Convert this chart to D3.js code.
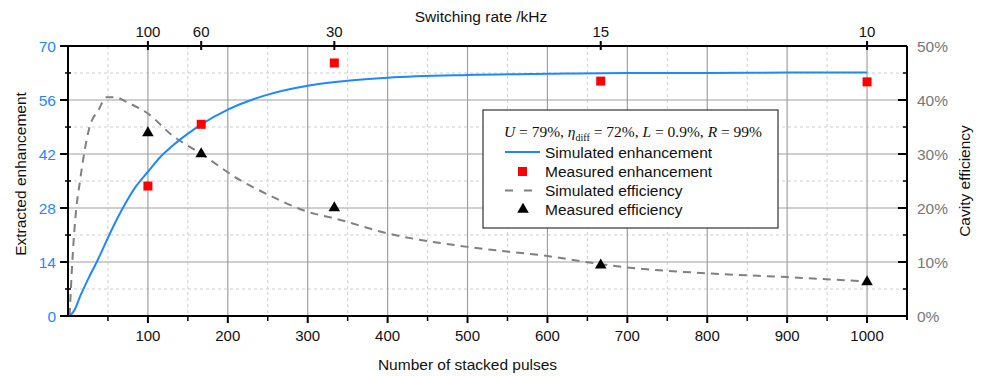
<!DOCTYPE html>
<html>
<head>
<meta charset="utf-8">
<script src="https://cdn.jsdelivr.net/npm/d3@7"></script>
<style>
  body { margin: 0; background: #fff; }
  svg text { font-family: "Liberation Sans", Arial, sans-serif; }
</style>
</head>
<body>
<svg id="chart" width="983" height="376"></svg>
<script>
// measured points (pulse count, switching rate)
var pulses = [100, 166.7, 333.3, 666.7, 1000];
var switchKHz = [100, 60, 30, 15, 10];
var measEnh = [33.7, 49.7, 65.6, 60.9, 60.7];
var measEff = [33.9, 30.0, 20.0, 9.4, 6.3];

// simulated curves
var simEnhX = [2, 8, 15, 25, 36, 55, 70, 85, 100, 115, 130, 145, 167, 200, 250, 300, 350, 400, 500, 600, 700, 800, 900, 1000];
var simEnhY = [0, 1.5, 5, 9.5, 14, 22.5, 28.5, 33.6, 37.4, 41.1, 44, 46.5, 49.7, 53.5, 57.4, 59.7, 61, 61.8, 62.5, 62.8, 63, 63, 63.1, 63.1];
var simEffX = [2, 5, 9, 15, 19, 27, 38, 48, 59, 75, 100, 130, 167, 215, 250, 300, 333, 400, 500, 600, 667, 700, 800, 900, 1000];
var simEffY = [0, 9, 17.8, 25, 29, 35, 38.1, 40.5, 40.5, 39.5, 37.5, 33.5, 30, 25.2, 22.5, 19.3, 18.1, 15.3, 12.8, 11.1, 9.6, 9, 7.9, 7.2, 6.4];

var xMajor = [100, 200, 300, 400, 500, 600, 700, 800, 900, 1000];
var xMinor = [50, 150, 250, 350, 450, 550, 650, 750, 850, 950];
var yMajor = [0, 14, 28, 42, 56, 70];
var yMinor = [7, 21, 35, 49, 63];
var effTicks = [0, 10, 20, 30, 40, 50];
var effMinor = [5, 15, 25, 35, 45];

var L = 68, R = 907, T = 46, B = 316;
var blue = "#1e88ff";

var svg = d3.select("#chart");
var x = d3.scaleLinear().domain([0, 1050]).range([L, R]);
var y = d3.scaleLinear().domain([0, 70]).range([B, T]);
var yEff = d3.scaleLinear().domain([0, 50]).range([B, T]);

// grid
var grid = svg.append("g");
grid.selectAll("line.xmin").data(xMinor).enter().append("line")
  .attr("x1", x).attr("x2", x).attr("y1", T).attr("y2", B)
  .attr("stroke", "#cfcfcf").attr("stroke-dasharray", "3,3");
grid.selectAll("line.ymin").data(yMinor).enter().append("line")
  .attr("x1", L).attr("x2", R).attr("y1", y).attr("y2", y)
  .attr("stroke", "#cfcfcf").attr("stroke-dasharray", "3,3");
grid.selectAll("line.xmaj").data(xMajor).enter().append("line")
  .attr("x1", x).attr("x2", x).attr("y1", T).attr("y2", B)
  .attr("stroke", "#a0a0a0").attr("stroke-width", 1.2);
grid.selectAll("line.ymaj").data(yMajor.slice(1, 5)).enter().append("line")
  .attr("x1", L).attr("x2", R).attr("y1", y).attr("y2", y)
  .attr("stroke", "#a0a0a0").attr("stroke-width", 1.2);

// curves
var enhLine = d3.line().x(function(d) { return x(d[0]); }).y(function(d) { return y(d[1]); })
  .curve(d3.curveMonotoneX);
var effLine = d3.line().x(function(d) { return x(d[0]); }).y(function(d) { return yEff(d[1]); })
  .curve(d3.curveMonotoneX);

svg.append("path")
  .attr("d", effLine(d3.zip(simEffX, simEffY)))
  .attr("fill", "none").attr("stroke", "#808080").attr("stroke-width", 2)
  .attr("stroke-dasharray", "8,6");
svg.append("path")
  .attr("d", enhLine(d3.zip(simEnhX, simEnhY)))
  .attr("fill", "none").attr("stroke", blue).attr("stroke-width", 2);

// measured markers
svg.selectAll("rect.meas").data(d3.zip(pulses, measEnh)).enter().append("rect")
  .attr("x", function(d) { return x(d[0]) - 4.5; })
  .attr("y", function(d) { return y(d[1]) - 4.5; })
  .attr("width", 9).attr("height", 9).attr("fill", "#ff0000");
var tri = d3.symbol().type(d3.symbolTriangle).size(58);
svg.selectAll("path.tri").data(d3.zip(pulses, measEff)).enter().append("path")
  .attr("d", tri)
  .attr("transform", function(d) { return "translate(" + x(d[0]) + "," + yEff(d[1]) + ")"; })
  .attr("fill", "#000");

// axes frame
var ax = svg.append("g").attr("stroke", "#000");
ax.append("line").attr("x1", L).attr("x2", R).attr("y1", B).attr("y2", B).attr("stroke-width", 2);
ax.append("line").attr("x1", L).attr("x2", R).attr("y1", T).attr("y2", T).attr("stroke-width", 2);
ax.append("line").attr("x1", L).attr("x2", L).attr("y1", T).attr("y2", B).attr("stroke-width", 2);
ax.append("line").attr("x1", R).attr("x2", R).attr("y1", T).attr("y2", B + 4).attr("stroke-width", 2);

// bottom ticks
ax.selectAll("line.bt").data(xMajor).enter().append("line")
  .attr("x1", x).attr("x2", x).attr("y1", B).attr("y2", B + 7).attr("stroke-width", 2);
ax.selectAll("line.btm").data(xMinor).enter().append("line")
  .attr("x1", x).attr("x2", x).attr("y1", B).attr("y2", B + 5).attr("stroke-width", 1.5);
svg.selectAll("text.bt").data(xMajor).enter().append("text")
  .attr("x", x).attr("y", B + 25).attr("text-anchor", "middle")
  .attr("font-size", 15).attr("fill", "#111").text(function(d) { return d; });

// left ticks
ax.selectAll("line.lt").data(yMajor).enter().append("line")
  .attr("x1", L - 8).attr("x2", L).attr("y1", y).attr("y2", y).attr("stroke-width", 2);
ax.selectAll("line.ltm").data(yMinor).enter().append("line")
  .attr("x1", L - 3).attr("x2", L + 3).attr("y1", y).attr("y2", y).attr("stroke-width", 1.5);
svg.selectAll("text.lt").data(yMajor).enter().append("text")
  .attr("x", L - 12).attr("y", function(d) { return y(d) + 6; }).attr("text-anchor", "end")
  .attr("font-size", 15.5).attr("fill", blue).text(function(d) { return d; });

// right ticks
ax.selectAll("line.rt").data(effTicks).enter().append("line")
  .attr("x1", R - 9).attr("x2", R).attr("y1", yEff).attr("y2", yEff).attr("stroke-width", 2);
ax.selectAll("line.rtm").data(effMinor).enter().append("line")
  .attr("x1", R - 4).attr("x2", R).attr("y1", yEff).attr("y2", yEff).attr("stroke-width", 1.5);
svg.selectAll("text.rt").data(effTicks).enter().append("text")
  .attr("x", R + 10).attr("y", function(d) { return yEff(d) + 6; })
  .attr("font-size", 15.5).attr("fill", "#777").text(function(d) { return d + "%"; });

// top axis: switching rate
ax.selectAll("line.tt").data(pulses).enter().append("line")
  .attr("x1", x).attr("x2", x).attr("y1", T - 5).attr("y2", T + 4).attr("stroke-width", 2);
svg.selectAll("text.tt").data(d3.zip(pulses, switchKHz)).enter().append("text")
  .attr("x", function(d) { return x(d[0]); }).attr("y", T - 9).attr("text-anchor", "middle")
  .attr("font-size", 15).attr("fill", "#111").text(function(d) { return d[1]; });

// axis titles
svg.append("text").attr("x", 481).attr("y", 22).attr("text-anchor", "middle")
  .attr("font-size", 15.5).attr("fill", "#111").text("Switching rate /kHz");
svg.append("text").attr("x", x(500)).attr("y", 370).attr("text-anchor", "middle")
  .attr("font-size", 15.5).attr("fill", "#111").text("Number of stacked pulses");
svg.append("text").attr("transform", "translate(26,174) rotate(-90)").attr("text-anchor", "middle")
  .attr("font-size", 15.5).attr("fill", "#111").text("Extracted enhancement");
svg.append("text").attr("transform", "translate(970,181) rotate(-90)").attr("text-anchor", "middle")
  .attr("font-size", 15.5).attr("fill", "#111").text("Cavity efficiency");

// legend
var lg = svg.append("g").attr("transform", "translate(483,110)");
lg.append("rect").attr("width", 295).attr("height", 118)
  .attr("fill", "#fff").attr("stroke", "#333").attr("stroke-width", 1.2);
var title = lg.append("text").attr("x", 150).attr("y", 27).attr("text-anchor", "middle")
  .attr("font-size", 15.5).attr("fill", "#111")
  .style("font-family", "'Liberation Serif', 'DejaVu Serif', serif");
title.append("tspan").attr("font-style", "italic").text("U");
title.append("tspan").text(" = 79%, ");
title.append("tspan").attr("font-style", "italic").text("η");
title.append("tspan").attr("font-size", 10).attr("dy", 4).text("diff");
title.append("tspan").attr("dy", -4).text(" = 72%, ");
title.append("tspan").attr("font-style", "italic").text("L");
title.append("tspan").text(" = 0.9%, ");
title.append("tspan").attr("font-style", "italic").text("R");
title.append("tspan").text(" = 99%");

var rows = ["Simulated enhancement", "Measured enhancement", "Simulated efficiency", "Measured efficiency"];
var rowY = [42, 61.5, 80.5, 99.5];
lg.selectAll("text.row").data(rows).enter().append("text")
  .attr("x", 62).attr("y", function(d, i) { return rowY[i] + 5.5; })
  .attr("font-size", 15.5).attr("fill", "#111").text(function(d) { return d; });
lg.append("line").attr("x1", 22).attr("x2", 57).attr("y1", rowY[0]).attr("y2", rowY[0])
  .attr("stroke", blue).attr("stroke-width", 2);
lg.append("rect").attr("x", 35).attr("y", rowY[1] - 4.5).attr("width", 9).attr("height", 9).attr("fill", "#ff0000");
lg.append("line").attr("x1", 22).attr("x2", 57).attr("y1", rowY[2]).attr("y2", rowY[2])
  .attr("stroke", "#808080").attr("stroke-width", 2).attr("stroke-dasharray", "8,11");
lg.append("path").attr("d", tri).attr("transform", "translate(40," + rowY[3] + ")").attr("fill", "#000");
</script>
</body>
</html>
